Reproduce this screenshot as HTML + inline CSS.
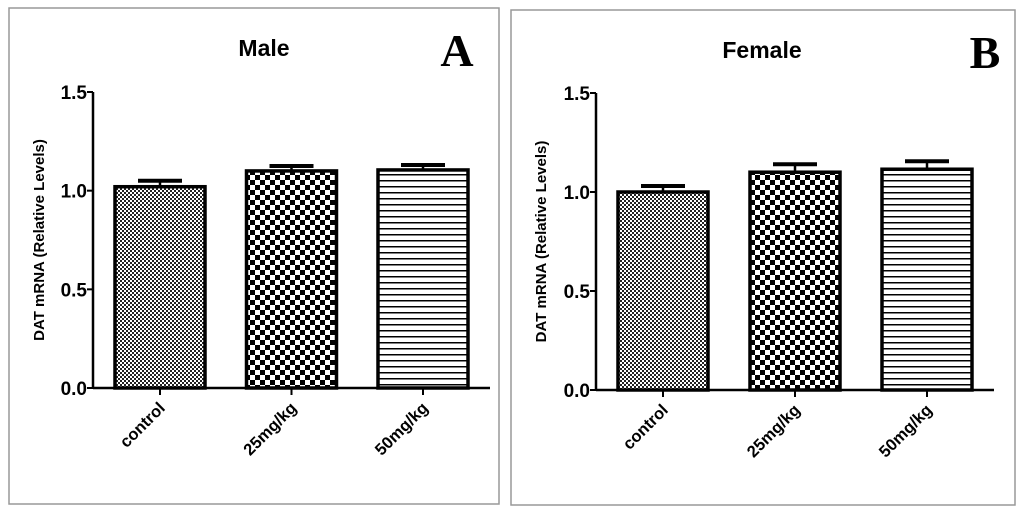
<!DOCTYPE html>
<html><head><meta charset="utf-8"><style>
body{margin:0;background:#fff;width:1024px;height:515px;overflow:hidden}
svg{display:block}
</style></head><body>
<svg id="chart" width="1024" height="515" font-family="Liberation Sans, Arial, sans-serif">
<defs>
<pattern id="pFine" width="4" height="4" patternUnits="userSpaceOnUse"><rect width="4" height="4" fill="#fff"/><rect width="2" height="2" fill="#222"/><rect x="2" y="2" width="2" height="2" fill="#222"/></pattern>
<pattern id="pCoarse" width="10" height="10" patternUnits="userSpaceOnUse"><rect width="10" height="10" fill="#fff"/><rect width="5" height="5" fill="#000"/><rect x="5" y="5" width="5" height="5" fill="#000"/></pattern>
<pattern id="pLines" width="6" height="6" patternUnits="userSpaceOnUse"><rect width="6" height="6" fill="#fff"/><rect y="0" width="6" height="1.5" fill="#000"/></pattern>
</defs>
</svg>
<script>
const categories = ["control","25mg/kg","50mg/kg"];
const maleValues = [1.02, 1.10, 1.105];
const maleErrors = [0.03, 0.025, 0.025];
const femaleValues = [1.0, 1.10, 1.115];
const femaleErrors = [0.03, 0.04, 0.04];
const yTicks = [0.0, 0.5, 1.0, 1.5];
const tickLabels = ["0.0","0.5","1.0","1.5"];
const patterns = ["url(#pFine)","url(#pCoarse)","url(#pLines)"];
const NS = "http://www.w3.org/2000/svg";
const svg = document.getElementById("chart");
function mk(tag, attrs, parent){const e=document.createElementNS(NS,tag);for(const k in attrs)e.setAttribute(k,attrs[k]);(parent||svg).appendChild(e);return e;}

function panel(px, py, pw, ph, axX, y0, y15, bx0, bstep, bw, title, titleX, letter, letterX, vals, errs, nm){
  const g = mk("g",{});
  
  
  const border = mk("rect",{x:px,y:py,width:pw,height:ph,fill:"none",stroke:"#999","stroke-width":1.5},g);
  
  
  const yS = v => y0 - (v/1.5)*(y0-y15);
  const t = mk("text",{x:titleX,y:py+48,"font-size":23,"font-weight":"bold","text-anchor":"middle"},g);
  t.textContent = title;
  
  
  const L = mk("text",{x:letterX,y:py+58,"font-size":46,"font-weight":"bold","text-anchor":"middle","font-family":"Liberation Serif, serif"},g);
  L.textContent = letter;
  
  
  const yt = mk("text",{transform:`translate(${px+35},${(y0+y15)/2}) rotate(-90)`,"font-size":15,"font-weight":"bold","text-anchor":"middle"},g);
  yt.textContent = "DAT mRNA (Relative Levels)";
  
  
  const ya = mk("line",{x1:axX,y1:y15,x2:axX,y2:y0,stroke:"#000","stroke-width":2.5},g);
  
  
  yTicks.forEach((v,i)=>{
    const y = yS(v);
    mk("line",{x1:axX-6,y1:y,x2:axX,y2:y,stroke:"#000","stroke-width":2},g);
    const tl = mk("text",{x:axX-6,y:y+7,"font-size":19,"font-weight":"bold","text-anchor":"end"},g);
    tl.textContent = tickLabels[i];
    
    
  });
  const xa = mk("line",{x1:axX,y1:y0,x2:bx0+2*bstep+bw+22,y2:y0,stroke:"#000","stroke-width":2.5},g);
  
  
  categories.forEach((c,i)=>{
    const x = bx0 + i*bstep, cx = x + bw/2;
    const top = yS(vals[i]), et = yS(vals[i]+errs[i]);
    const eb = mk("line",{x1:cx,y1:top,x2:cx,y2:et,stroke:"#000","stroke-width":2.5},g);
    
    
    mk("line",{x1:cx-22,y1:et,x2:cx+22,y2:et,stroke:"#000","stroke-width":4},g);
    const b = mk("rect",{x:x,y:top,width:bw,height:y0-top,fill:patterns[i],stroke:"#000","stroke-width":3.5},g);
    
    
    mk("line",{x1:cx,y1:y0,x2:cx,y2:y0+7,stroke:"#000","stroke-width":2},g);
    const xl = mk("text",{transform:`translate(${cx+6},${y0+21}) rotate(-45)`,"font-size":16.5,"font-weight":"bold","text-anchor":"end"},g);
    xl.textContent = c;
    
    
  });
}
panel(9,8,490,496,93,388,92,115,131.5,90,"Male",264,"A",457,maleValues,maleErrors,"panel-male");
panel(511,10,504,495,596,390,93,618,132,90,"Female",762,"B",985,femaleValues,femaleErrors,"panel-female");
</script>
</body></html>
